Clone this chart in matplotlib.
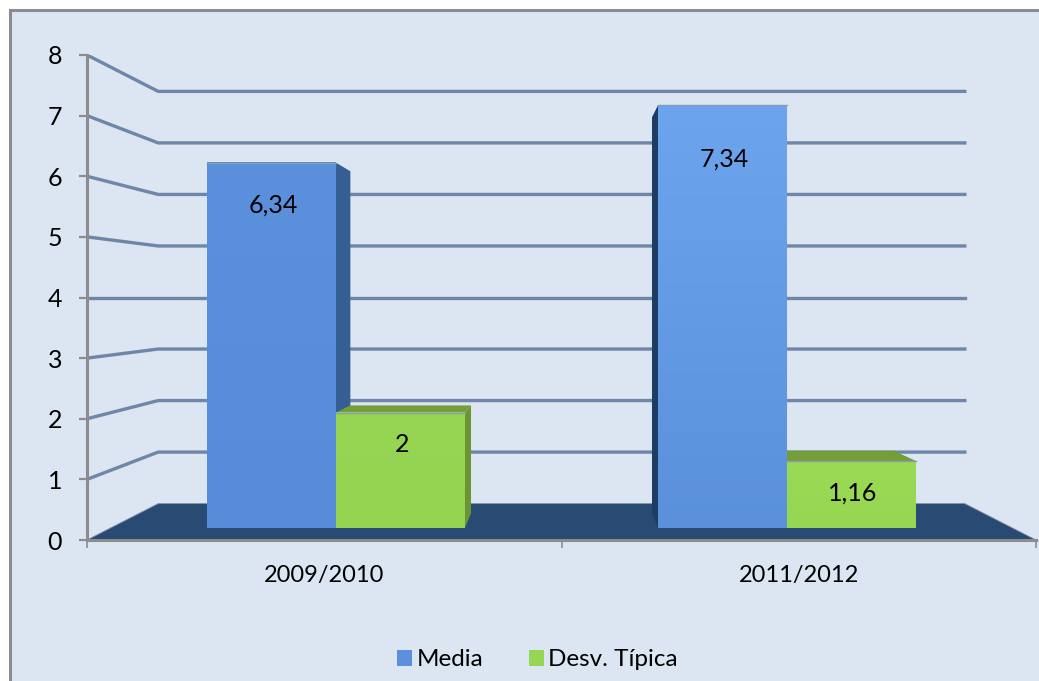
import numpy as np
import matplotlib
matplotlib.use("Agg")
import matplotlib.pyplot as plt
from matplotlib.patches import Polygon, Rectangle, Patch
from matplotlib.colors import LinearSegmentedColormap

plt.rcParams['font.family'] = ['Lato', 'DejaVu Sans']

# --- DATA ---
categories = ["2009/2010", "2011/2012"]
media = [6.34, 7.34]
desv_tipica = [2, 1.16]
media_labels = ["6,34", "7,34"]
desv_labels = ["2", "1,16"]
y_ticks = [0, 1, 2, 3, 4, 5, 6, 7, 8]

W, H = 1039, 681
BG = '#DCE6F2'
GRID = '#6E86A8'
GRAY = '#8C8C8C'

# depth scale of the fake 3D box
S_WALL = 0.85
S_BAR_FRONT = 0.9505
S_BAR_BACK = 0.89
BAR_W = 1 / 3.5

def proj(x, y, s):
    # perspective towards the vanishing point in the middle of the plot
    return (1 + (x - 1) * s, 4 + (y - 4) * s)

fig = plt.figure(figsize=(W / 100, H / 100), dpi=100, facecolor='white')
fig.add_artist(Rectangle((10 / W, -0.1), 1.1, 1 - 10 / H + 0.1, transform=fig.transFigure,
                         facecolor=BG, edgecolor=GRAY, linewidth=2.2, zorder=-1))

ax = fig.add_axes([87 / W, 1 - 540 / H, 949 / W, 485 / H])
ax.patch.set_visible(False)
ax.set_xlim(0, 2)
ax.set_ylim(0, 8)

# floor
ax.add_patch(Polygon([proj(0, 0, 1), proj(0, 0, S_WALL), proj(2, 0, S_WALL), proj(2, 0, 1)],
                     facecolor='#284A73', edgecolor='#7F8FA6', linewidth=0.6, zorder=1))

# grid lines over the side wall and back wall
for level in y_ticks[1:]:
    pts = [proj(0, level, 1), proj(0, level, S_WALL), proj(2, level, S_WALL)]
    ax.plot(*zip(*pts), color=GRID, linewidth=2.4, solid_joinstyle='miter', zorder=1)

def side(x, val, color, z):
    pts = [proj(x, 0, S_BAR_FRONT), proj(x, val, S_BAR_FRONT),
           proj(x, val, S_BAR_BACK), proj(x, 0, S_BAR_BACK)]
    ax.add_patch(Polygon(pts, facecolor=color, edgecolor='none', zorder=z))

def top_face(x0, x1, val, color, z):
    pts = [proj(x0, val, S_BAR_FRONT), proj(x1, val, S_BAR_FRONT),
           proj(x1, val, S_BAR_BACK), proj(x0, val, S_BAR_BACK)]
    ax.add_patch(Polygon(pts, facecolor=color, edgecolor='none', zorder=z))

def front(x0, x1, val, c_top, c_bot, z):
    (px0, py0), (px1, py1) = proj(x0, 0, S_BAR_FRONT), proj(x1, val, S_BAR_FRONT)
    cmap = LinearSegmentedColormap.from_list('g', [c_top, c_bot])
    ax.imshow(np.linspace(0, 1, 64).reshape(-1, 1), cmap=cmap, extent=(px0, px1, py0, py1),
              aspect='auto', interpolation='bilinear', zorder=z)
    ax.plot([px0, px1], [py1, py1], color='#8A9BB0', linewidth=1, zorder=z + 0.1)

series = [
    (media, -BAR_W, '#5A90DC', '#568CD8', '#6CA4EE', '#5B91DB', '#355F94', '#1F3D63', media_labels),
    (desv_tipica, 0, '#97D654', '#94D350', '#9BDA55', '#97D652', '#6B9535', '#6B9535', desv_labels),
]
label_offsets = [[42, 54], [32, 32]]  # px below the top of the bar

for i, center in enumerate([0.5, 1.5]):
    for k, (vals, start, c1, c2, c3, c4, c_right, c_left, labels) in enumerate(series):
        x0 = center + start
        x1 = x0 + BAR_W
        val = vals[i]
        # sides and top first, the front faces go over them
        side(x1, val, c_right, 2)
        side(x0, val, c_left, 2)
        if k == 1:
            top_face(x0, x1, val, '#749E37', 2.5)
        top, bot = (c1, c2) if i == 0 else (c3, c4)
        front(x0, x1, val, top, bot, 3)
        lx, ly = proj((x0 + x1) / 2, val, S_BAR_FRONT)
        ax.annotate(labels[i], (lx, ly), xytext=(1, -label_offsets[k][i] * 0.72),
                    textcoords='offset points', ha='center', va='center',
                    fontsize=18, color='black', zorder=5)

ax.set_xlim(0, 2)
ax.set_ylim(0, 8)

# axes
for name in ['top', 'right']:
    ax.spines[name].set_visible(False)
for name in ['left', 'bottom']:
    ax.spines[name].set_color(GRAY)
    ax.spines[name].set_linewidth(2.2)
    ax.spines[name].set_zorder(4)

ax.set_yticks(y_ticks)
ax.tick_params(axis='y', length=6, width=1.6, color=GRAY, pad=12, labelsize=18, labelcolor='black')
ax.set_xticks([0, 1, 2])
ax.set_xticklabels([])
ax.tick_params(axis='x', which='major', length=6, width=1.2, color=GRAY)
ax.set_xticks([0.5, 1.5], minor=True)
ax.set_xticklabels(categories, minor=True)
ax.tick_params(axis='x', which='minor', length=0, pad=18, labelsize=17, labelcolor='black')

# legend
handles = [Patch(facecolor='#5A90DC', label='Media'), Patch(facecolor='#97D654', label='Desv. Típica')]
fig.legend(handles=handles, loc='center', bbox_to_anchor=(537.5 / W, 1 - 660 / H), ncol=2, frameon=False,
           fontsize=17.5, handlelength=0.62, handleheight=0.62, handletextpad=0.2,
           columnspacing=1.85, borderpad=0, borderaxespad=0)

fig.savefig("out.png", dpi=100)
